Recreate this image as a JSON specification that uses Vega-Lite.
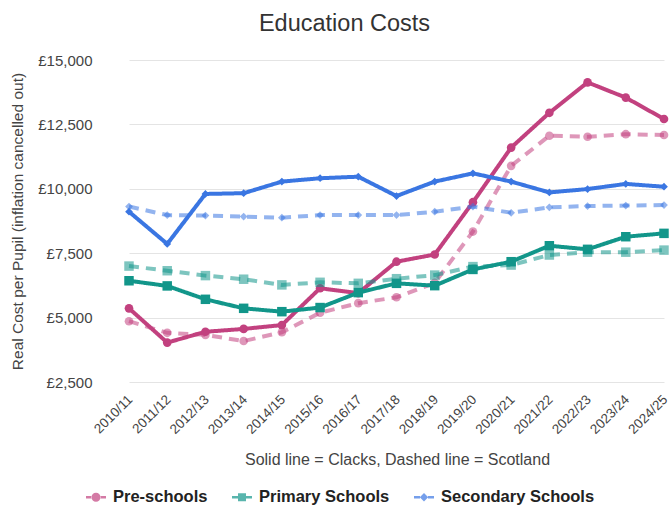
{
  "$schema": "https://vega.github.io/schema/vega-lite/v6.json",
  "autosize": {"type": "none"},
  "width": 563,
  "height": 322,
  "padding": {"left": 108, "top": 60, "right": 0, "bottom": 124},
  "background": "white",
  "config": {
    "font": "Liberation Sans",
    "view": {"stroke": null}
  },
  "title": {
    "text": "Education Costs",
    "fontSize": 23.5,
    "fontWeight": "normal",
    "color": "#333333",
    "anchor": "middle",
    "frame": "group",
    "dx": -45,
    "dy": 28,
    "baseline": "alphabetic",
    "offset": 27
  },
  "data": {
    "values": [
      {"year": "2010/11", "series": "Pre-schools", "region": "Clacks", "value": 5360},
      {"year": "2011/12", "series": "Pre-schools", "region": "Clacks", "value": 4030},
      {"year": "2012/13", "series": "Pre-schools", "region": "Clacks", "value": 4450},
      {"year": "2013/14", "series": "Pre-schools", "region": "Clacks", "value": 4560},
      {"year": "2014/15", "series": "Pre-schools", "region": "Clacks", "value": 4710},
      {"year": "2015/16", "series": "Pre-schools", "region": "Clacks", "value": 6140},
      {"year": "2016/17", "series": "Pre-schools", "region": "Clacks", "value": 5950},
      {"year": "2017/18", "series": "Pre-schools", "region": "Clacks", "value": 7170},
      {"year": "2018/19", "series": "Pre-schools", "region": "Clacks", "value": 7450},
      {"year": "2019/20", "series": "Pre-schools", "region": "Clacks", "value": 9480},
      {"year": "2020/21", "series": "Pre-schools", "region": "Clacks", "value": 11600},
      {"year": "2021/22", "series": "Pre-schools", "region": "Clacks", "value": 12950},
      {"year": "2022/23", "series": "Pre-schools", "region": "Clacks", "value": 14130},
      {"year": "2023/24", "series": "Pre-schools", "region": "Clacks", "value": 13540},
      {"year": "2024/25", "series": "Pre-schools", "region": "Clacks", "value": 12710},
      {"year": "2010/11", "series": "Pre-schools", "region": "Scotland", "value": 4860},
      {"year": "2011/12", "series": "Pre-schools", "region": "Scotland", "value": 4410},
      {"year": "2012/13", "series": "Pre-schools", "region": "Scotland", "value": 4330},
      {"year": "2013/14", "series": "Pre-schools", "region": "Scotland", "value": 4090},
      {"year": "2014/15", "series": "Pre-schools", "region": "Scotland", "value": 4430},
      {"year": "2015/16", "series": "Pre-schools", "region": "Scotland", "value": 5190},
      {"year": "2016/17", "series": "Pre-schools", "region": "Scotland", "value": 5560},
      {"year": "2017/18", "series": "Pre-schools", "region": "Scotland", "value": 5790},
      {"year": "2018/19", "series": "Pre-schools", "region": "Scotland", "value": 6350},
      {"year": "2019/20", "series": "Pre-schools", "region": "Scotland", "value": 8340},
      {"year": "2020/21", "series": "Pre-schools", "region": "Scotland", "value": 10890},
      {"year": "2021/22", "series": "Pre-schools", "region": "Scotland", "value": 12060},
      {"year": "2022/23", "series": "Pre-schools", "region": "Scotland", "value": 12020},
      {"year": "2023/24", "series": "Pre-schools", "region": "Scotland", "value": 12120},
      {"year": "2024/25", "series": "Pre-schools", "region": "Scotland", "value": 12090},
      {"year": "2010/11", "series": "Primary Schools", "region": "Clacks", "value": 6430},
      {"year": "2011/12", "series": "Primary Schools", "region": "Clacks", "value": 6230},
      {"year": "2012/13", "series": "Primary Schools", "region": "Clacks", "value": 5710},
      {"year": "2013/14", "series": "Primary Schools", "region": "Clacks", "value": 5360},
      {"year": "2014/15", "series": "Primary Schools", "region": "Clacks", "value": 5230},
      {"year": "2015/16", "series": "Primary Schools", "region": "Clacks", "value": 5390},
      {"year": "2016/17", "series": "Primary Schools", "region": "Clacks", "value": 5970},
      {"year": "2017/18", "series": "Primary Schools", "region": "Clacks", "value": 6330},
      {"year": "2018/19", "series": "Primary Schools", "region": "Clacks", "value": 6240},
      {"year": "2019/20", "series": "Primary Schools", "region": "Clacks", "value": 6870},
      {"year": "2020/21", "series": "Primary Schools", "region": "Clacks", "value": 7170},
      {"year": "2021/22", "series": "Primary Schools", "region": "Clacks", "value": 7790},
      {"year": "2022/23", "series": "Primary Schools", "region": "Clacks", "value": 7650},
      {"year": "2023/24", "series": "Primary Schools", "region": "Clacks", "value": 8140},
      {"year": "2024/25", "series": "Primary Schools", "region": "Clacks", "value": 8270},
      {"year": "2010/11", "series": "Primary Schools", "region": "Scotland", "value": 7000},
      {"year": "2011/12", "series": "Primary Schools", "region": "Scotland", "value": 6820},
      {"year": "2012/13", "series": "Primary Schools", "region": "Scotland", "value": 6630},
      {"year": "2013/14", "series": "Primary Schools", "region": "Scotland", "value": 6490},
      {"year": "2014/15", "series": "Primary Schools", "region": "Scotland", "value": 6270},
      {"year": "2015/16", "series": "Primary Schools", "region": "Scotland", "value": 6370},
      {"year": "2016/17", "series": "Primary Schools", "region": "Scotland", "value": 6330},
      {"year": "2017/18", "series": "Primary Schools", "region": "Scotland", "value": 6510},
      {"year": "2018/19", "series": "Primary Schools", "region": "Scotland", "value": 6650},
      {"year": "2019/20", "series": "Primary Schools", "region": "Scotland", "value": 6980},
      {"year": "2020/21", "series": "Primary Schools", "region": "Scotland", "value": 7040},
      {"year": "2021/22", "series": "Primary Schools", "region": "Scotland", "value": 7430},
      {"year": "2022/23", "series": "Primary Schools", "region": "Scotland", "value": 7540},
      {"year": "2023/24", "series": "Primary Schools", "region": "Scotland", "value": 7540},
      {"year": "2024/25", "series": "Primary Schools", "region": "Scotland", "value": 7620},
      {"year": "2010/11", "series": "Secondary Schools", "region": "Clacks", "value": 9110},
      {"year": "2011/12", "series": "Secondary Schools", "region": "Clacks", "value": 7860},
      {"year": "2012/13", "series": "Secondary Schools", "region": "Clacks", "value": 9800},
      {"year": "2013/14", "series": "Secondary Schools", "region": "Clacks", "value": 9830},
      {"year": "2014/15", "series": "Secondary Schools", "region": "Clacks", "value": 10280},
      {"year": "2015/16", "series": "Secondary Schools", "region": "Clacks", "value": 10410},
      {"year": "2016/17", "series": "Secondary Schools", "region": "Clacks", "value": 10470},
      {"year": "2017/18", "series": "Secondary Schools", "region": "Clacks", "value": 9720},
      {"year": "2018/19", "series": "Secondary Schools", "region": "Clacks", "value": 10280},
      {"year": "2019/20", "series": "Secondary Schools", "region": "Clacks", "value": 10600},
      {"year": "2020/21", "series": "Secondary Schools", "region": "Clacks", "value": 10280},
      {"year": "2021/22", "series": "Secondary Schools", "region": "Clacks", "value": 9860},
      {"year": "2022/23", "series": "Secondary Schools", "region": "Clacks", "value": 9990},
      {"year": "2023/24", "series": "Secondary Schools", "region": "Clacks", "value": 10190},
      {"year": "2024/25", "series": "Secondary Schools", "region": "Clacks", "value": 10080},
      {"year": "2010/11", "series": "Secondary Schools", "region": "Scotland", "value": 9310},
      {"year": "2011/12", "series": "Secondary Schools", "region": "Scotland", "value": 8980},
      {"year": "2012/13", "series": "Secondary Schools", "region": "Scotland", "value": 8960},
      {"year": "2013/14", "series": "Secondary Schools", "region": "Scotland", "value": 8920},
      {"year": "2014/15", "series": "Secondary Schools", "region": "Scotland", "value": 8880},
      {"year": "2015/16", "series": "Secondary Schools", "region": "Scotland", "value": 8980},
      {"year": "2016/17", "series": "Secondary Schools", "region": "Scotland", "value": 8980},
      {"year": "2017/18", "series": "Secondary Schools", "region": "Scotland", "value": 8980},
      {"year": "2018/19", "series": "Secondary Schools", "region": "Scotland", "value": 9110},
      {"year": "2019/20", "series": "Secondary Schools", "region": "Scotland", "value": 9310},
      {"year": "2020/21", "series": "Secondary Schools", "region": "Scotland", "value": 9070},
      {"year": "2021/22", "series": "Secondary Schools", "region": "Scotland", "value": 9280},
      {"year": "2022/23", "series": "Secondary Schools", "region": "Scotland", "value": 9330},
      {"year": "2023/24", "series": "Secondary Schools", "region": "Scotland", "value": 9350},
      {"year": "2024/25", "series": "Secondary Schools", "region": "Scotland", "value": 9370}
    ]
  },
  "encoding": {
    "x": {
      "field": "year",
      "type": "ordinal",
      "sort": null,
      "scale": {"type": "point", "range": [21, 556], "padding": 0},
      "axis": {
        "title": "Solid line = Clacks, Dashed line = Scotland",
        "titleFontSize": 16,
        "titleFontWeight": "normal",
        "titleColor": "#444444",
        "titleX": 289,
        "titleY": 77,
        "titleAlign": "center",
        "titleBaseline": "middle",
        "labelAngle": -45,
        "labelAlign": "right",
        "labelBaseline": "middle",
        "labelPadding": 15,
        "labelOffset": 1,
        "labelFontSize": 13.5,
        "labelColor": "#444444",
        "ticks": false,
        "domain": false,
        "grid": false
      }
    },
    "y": {
      "field": "value",
      "type": "quantitative",
      "scale": {"domain": [2500, 15000], "nice": false, "zero": false},
      "axis": {
        "title": "Real Cost per Pupil (inflation cancelled out)",
        "titleFontSize": 15.5,
        "titleFontWeight": "normal",
        "titleColor": "#444444",
        "titleAngle": -90,
        "titleX": -91,
        "titleY": 161,
        "titleAlign": "center",
        "titleBaseline": "middle",
        "values": [2500, 5000, 7500, 10000, 12500, 15000],
        "format": ",.0f",
        "labelExpr": "'£' + datum.label",
        "labelFontSize": 15,
        "labelColor": "#444444",
        "labelPadding": 16,
        "ticks": false,
        "domain": false,
        "grid": true,
        "gridColor": "#e4e4e4",
        "gridWidth": 1
      }
    },
    "color": {
      "field": "series",
      "type": "nominal",
      "scale": {
        "domain": ["Pre-schools", "Primary Schools", "Secondary Schools"],
        "range": ["#c2417f", "#12968a", "#3a76e2"]
      },
      "legend": {
        "title": null,
        "orient": "none",
        "direction": "horizontal",
        "legendX": -22,
        "legendY": 427,
        "symbolSize": 400,
        "symbolStrokeWidth": 0,
        "labelFontSize": 16.5,
        "labelFontWeight": "bold",
        "labelColor": "#222222",
        "labelOffset": 7,
        "columnPadding": 24
      }
    }
  },
  "layer": [
    {
      "mark": {"type": "line", "strokeWidth": 4},
      "encoding": {
        "strokeDash": {
          "field": "region",
          "type": "nominal",
          "scale": {"domain": ["Clacks", "Scotland"], "range": [[1, 0], [10, 7]]},
          "legend": null
        },
        "opacity": {
          "field": "region",
          "type": "nominal",
          "scale": {"domain": ["Clacks", "Scotland"], "range": [1, 0.55]},
          "legend": null
        }
      }
    },
    {
      "transform": [{"filter": "datum.series === 'Pre-schools'"}],
      "mark": {"type": "point", "filled": true, "shape": "circle", "size": 75},
      "encoding": {
        "opacity": {"field": "region", "type": "nominal", "legend": null}
      }
    },
    {
      "transform": [{"filter": "datum.series === 'Primary Schools'"}],
      "mark": {"type": "point", "filled": true, "shape": "square", "size": 90},
      "encoding": {
        "opacity": {"field": "region", "type": "nominal", "legend": null}
      }
    },
    {
      "transform": [{"filter": "datum.series === 'Secondary Schools'"}],
      "mark": {"type": "point", "filled": true, "shape": "diamond", "size": 60},
      "encoding": {
        "opacity": {"field": "region", "type": "nominal", "legend": null}
      }
    },
    {
      "transform": [{"filter": "false"}],
      "mark": {"type": "point", "filled": true, "opacity": 1},
      "encoding": {
        "shape": {
          "field": "series",
          "type": "nominal",
          "scale": {
            "domain": ["Pre-schools", "Primary Schools", "Secondary Schools"],
            "range": [
              "M-1,-0.13H-0.4V0.13H-1Z M0.4,-0.13H1V0.13H0.4Z M-0.45,0A0.45,0.45 0 1,0 0.45,0A0.45,0.45 0 1,0 -0.45,0Z",
              "M-1,-0.13H-0.4V0.13H-1Z M0.4,-0.13H1V0.13H0.4Z M-0.4,-0.4H0.4V0.4H-0.4Z",
              "M-1,-0.13H-0.4V0.13H-1Z M0.4,-0.13H1V0.13H0.4Z M0,-0.42L0.42,0L0,0.42L-0.42,0Z"
            ]
          },
          "legend": {
            "title": null,
            "orient": "none",
            "direction": "horizontal",
            "legendX": -22,
            "legendY": 427,
            "symbolSize": 400,
            "symbolStrokeWidth": 0,
            "labelFontSize": 16.5,
            "labelFontWeight": "bold",
            "labelColor": "#222222",
            "labelOffset": 7,
            "columnPadding": 24
          }
        }
      }
    }
  ]
}
